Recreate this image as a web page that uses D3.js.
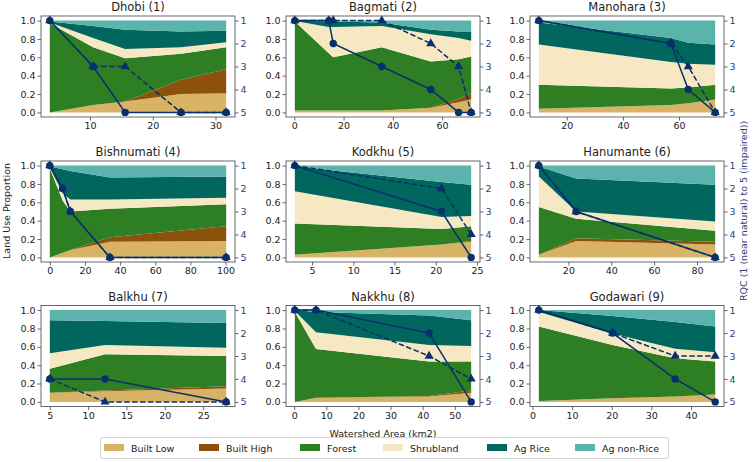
<!DOCTYPE html>
<html><head><meta charset="utf-8">
<script src="https://cdn.jsdelivr.net/npm/d3@7"></script>
<style>body{margin:0;background:#fff}svg{display:block;font-family:"DejaVu Sans",sans-serif}</style>
</head><body><svg id="c" width="756" height="462"></svg>
<script>
const watersheds = ["Dhobi (1)","Bagmati (2)","Manohara (3)","Bishnumati (4)","Kodkhu (5)","Hanumante (6)","Balkhu (7)","Nakkhu (8)","Godawari (9)"];
const areaKm2 = [
  [3.6,10.5,15.6,24.5,31.7],
  [0.2,14,15.8,35.5,55.4,66.7,71.8],
  [10,57.1,63.3,72.9],
  [0,7.3,11.7,34.2,100.4],
  [2.9,20.7,24.3],
  [6.2,23.6,88.5],
  [5.0,12.2,28.0],
  [0.2,6.8,42.0,55.1],
  [1.6,20.2,36.0,46.1]
];
const xTickStep = [10,20,20,20,5,20,5,10,10];
const builtLow = [
  [0,0.08,0.12,0.20,0.21],
  [0.02,0.02,0.02,0.02,0.05,0.11,0.14],
  [0.04,0.08,0.10,0.14],
  [0,0.05,0.08,0.17,0.18],
  [0.03,0.14,0.17],
  [0.03,0.18,0.14],
  [0.10,0.115,0.145],
  [0,0.045,0.06,0.10],
  [0.01,0.04,0.06,0.08]
];
const builtHigh = [
  [0,0,0,0.155,0.26],
  [0,0,0,0,0,0.04,0.07],
  [0,0,0,0],
  [0,0,0,0.05,0.16],
  [0,0,0.01],
  [0,0.03,0.03],
  [0,0.01,0.025],
  [0,0,0.005,0.025],
  [0,0,0,0]
];
const forest = [
  [0.97,0.63,0.47,0.285,0.24],
  [0.97,0.625,0.58,0.69,0.505,0.43,0.40],
  [0.26,0.18,0.17,0.16],
  [0.97,0.57,0.42,0.31,0.24],
  [0.34,0.17,0.16],
  [0.52,0.21,0.12],
  [0.26,0.395,0.33],
  [0.98,0.53,0.375,0.315],
  [0.81,0.58,0.415,0.36]
];
const shrubland = [
  [0.01,0.10,0.10,0.07,0.055],
  [0.005,0.285,0.33,0.23,0.295,0.23,0.17],
  [0.44,0.29,0.26,0.22],
  [0.01,0.08,0.13,0.10,0.07],
  [0.35,0.13,0.11],
  [0.33,0.08,0.10],
  [0.17,0.10,0.09],
  [0.01,0.185,0.18,0.17],
  [0.16,0.125,0.105,0.10]
];
const agRice = [
  [0.01,0.13,0.21,0.17,0.125],
  [0.005,0.06,0.06,0.04,0.05,0.07,0.10],
  [0.24,0.26,0.23,0.22],
  [0.01,0.26,0.31,0.24,0.23],
  [0.27,0.38,0.34],
  [0.11,0.36,0.40],
  [0.36,0.26,0.27],
  [0.01,0.22,0.32,0.28],
  [0.02,0.19,0.29,0.28]
];
const agNonRice = [
  [0.01,0.06,0.10,0.12,0.11],
  [0,0.01,0.01,0.02,0.10,0.12,0.12],
  [0.02,0.19,0.24,0.26],
  [0.01,0.04,0.06,0.13,0.12],
  [0.01,0.18,0.21],
  [0.01,0.14,0.21],
  [0.11,0.12,0.14],
  [0,0.02,0.06,0.11],
  [0,0.065,0.13,0.18]
];
const rqcSolid = [
  [1,3,5,5,5],
  [1,1,2,3,4,5,5],
  [1,2,4,5],
  [1,2,3,5,5],
  [1,3,5],
  [1,3,5],
  [4,4,5],
  [1,1,2,5],
  [1,2,4,5]
];
const rqcDashed = [
  [1,3,3,5,5],
  [1,1,1,1,2,3,5],
  [1,2,3,5],
  [1,2,3,5,5],
  [1,2,4],
  [1,3,5],
  [4,5,5],
  [1,1,3,4],
  [1,2,3,3]
];
const landTicks = [0,0.2,0.4,0.6,0.8,1.0];
const rqcTicks = [1,2,3,4,5];
const legendLabels = ["Built Low","Built High","Forest","Shrubland","Ag Rice","Ag non-Rice"];
const layerColors = ["#d8b365","#8c510a","#2e7f24","#f6e8c3","#01665e","#5ab4ac"];
const layerData = [builtLow,builtHigh,forest,shrubland,agRice,agNonRice];

const svg = d3.select("#c");
const navy = "#08306b", rqcText = "#2a3f7a", axisCol = "#444";
const colLeft = [41,286,530], rowTop = [16,161,305.5], pw = 194, ph = 101;

watersheds.forEach((name,i)=>{
  const col = i%3, row = Math.floor(i/3);
  const g = svg.append("g").attr("transform",`translate(${colLeft[col]},${rowTop[row]})`);
  const xs = areaKm2[i];
  const [x0,x1] = d3.extent(xs); const m = (x1-x0)*0.05;
  const x = d3.scaleLinear().domain([x0-m,x1+m]).range([0,pw]);
  const y = d3.scaleLinear().domain([-0.05,1.05]).range([ph,0]);
  const yr = d3.scaleLinear().domain([5.2,0.8]).range([ph,0]);
  const rows = xs.map((v,j)=>{const o={x:v}; legendLabels.forEach((k,l)=>o[k]=layerData[l][i][j]); return o;});
  const stack = d3.stack().keys(legendLabels)(rows);
  const area = d3.area().x(d=>x(d.data.x)).y0(d=>y(d[0])).y1(d=>y(d[1]));
  g.selectAll("path.layer").data(stack).join("path").attr("class","layer")
    .attr("d",area).attr("fill",(d,k)=>layerColors[k]);
  const line = d3.line().x(d=>x(d[0])).y(d=>yr(d[1]));
  const dpts = xs.map((v,j)=>[v,rqcDashed[i][j]]);
  const spts = xs.map((v,j)=>[v,rqcSolid[i][j]]);
  g.append("path").attr("d",line(dpts)).attr("fill","none").attr("stroke",navy).attr("stroke-width",1.5).attr("stroke-dasharray","5.5,2.4");
  g.selectAll("path.tri").data(dpts).join("path").attr("class","tri")
    .attr("d",d3.symbol(d3.symbolTriangle,36)).attr("transform",d=>`translate(${x(d[0])},${yr(d[1])})`).attr("fill",navy);
  g.append("path").attr("d",line(spts)).attr("fill","none").attr("stroke",navy).attr("stroke-width",1.5);
  g.selectAll("circle.pt").data(spts).join("circle").attr("class","pt")
    .attr("cx",d=>x(d[0])).attr("cy",d=>yr(d[1])).attr("r",3.7).attr("fill",navy);
  const st = xTickStep[i];
  const xt = d3.range(Math.ceil(x.domain()[0]/st)*st, x.domain()[1]+1e-9, st);
  const ax = g.append("g").attr("transform",`translate(0,${ph})`).call(d3.axisBottom(x).tickValues(xt).tickFormat(d3.format("d")).tickSizeOuter(0).tickSize(3.5).tickPadding(2));
  const ay = g.append("g").call(d3.axisLeft(y).tickValues(landTicks).tickFormat(d3.format(".1f")).tickSizeOuter(0).tickSize(3.5).tickPadding(2));
  const ar = g.append("g").attr("transform",`translate(${pw},0)`).call(d3.axisRight(yr).tickValues(rqcTicks).tickFormat(d3.format("d")).tickSizeOuter(0).tickSize(3.5).tickPadding(2));
  [ax,ay,ar].forEach(a=>{a.select(".domain").remove();a.selectAll("line").attr("stroke",axisCol).attr("stroke-width",0.8);a.selectAll("text").attr("font-size",9.5).attr("fill","#222").attr("font-family","DejaVu Sans");});
  ar.selectAll("line").attr("stroke",rqcText);
  ar.selectAll("text").attr("fill",rqcText);
  g.append("rect").attr("width",pw).attr("height",ph).attr("fill","none").attr("stroke",axisCol).attr("stroke-width",0.8);
  g.append("text").attr("x",pw/2).attr("y",-5).attr("text-anchor","middle").attr("font-size",11.5).attr("fill","#222").text(name);
});

svg.append("text").attr("transform","translate(10,211) rotate(-90)").attr("text-anchor","middle").attr("font-size",9.5).attr("fill","#222").text("Land Use Proportion");
svg.append("text").attr("transform","translate(747,211) rotate(-90)").attr("text-anchor","middle").attr("font-size",9.5).attr("fill",rqcText).text("RQC (1 (near natural) to 5 (impaired))");
svg.append("text").attr("x",383).attr("y",437).attr("text-anchor","middle").attr("font-size",9.5).attr("fill","#222").text("Watershed Area (km2)");

const lg = svg.append("g");
lg.append("rect").attr("x",100.5).attr("y",437.5).attr("width",568).attr("height",21).attr("rx",2).attr("fill","#fff").attr("stroke","#ccc").attr("stroke-width",0.8);
const lx = [104,199,300,383,487,575];
legendLabels.forEach((l,k)=>{
  lg.append("rect").attr("x",lx[k]).attr("y",444).attr("width",20).attr("height",7).attr("fill",layerColors[k]);
  lg.append("text").attr("x",lx[k]+27).attr("y",451.5).attr("font-size",9.5).attr("fill","#222").text(l);
});
</script></body></html>
